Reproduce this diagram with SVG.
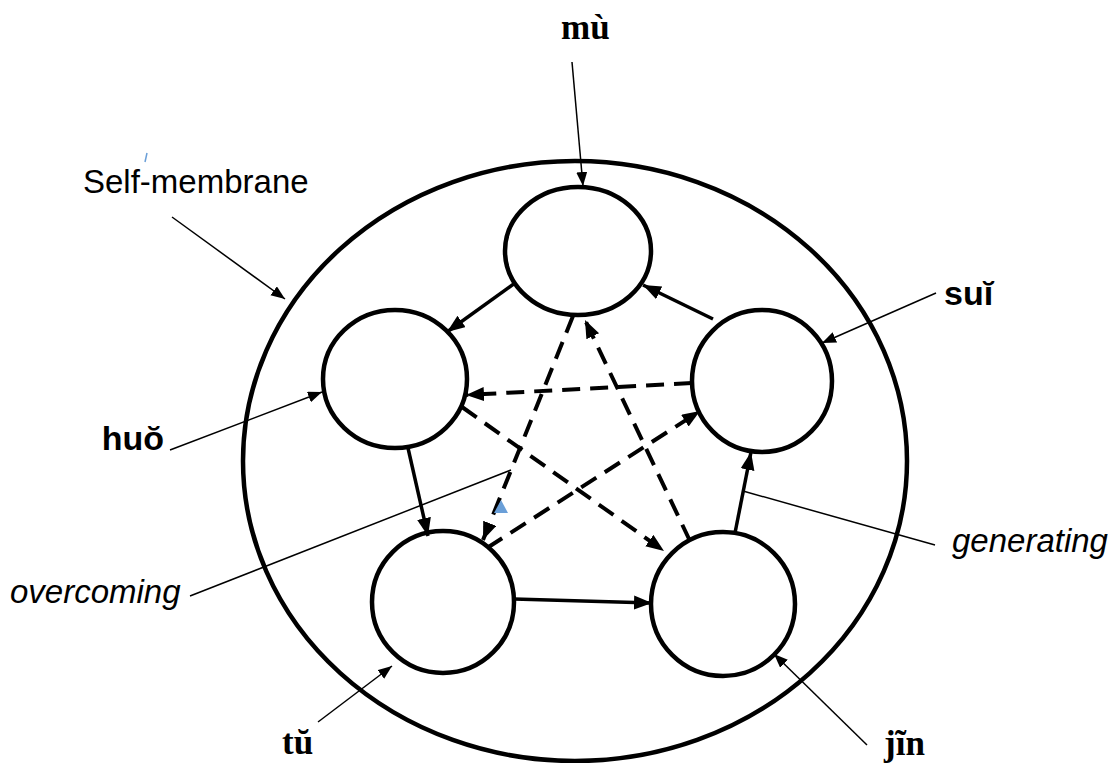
<svg xmlns="http://www.w3.org/2000/svg" width="1114" height="763" viewBox="0 0 1114 763">
<style>
.node{fill:#fff;stroke:#000;stroke-width:4.5}
.gen{fill:none;stroke:#000;stroke-width:3.5;marker-end:url(#ah)}
.over{fill:none;stroke:#000;stroke-width:4;stroke-dasharray:18 10;marker-end:url(#ah)}
.thin{fill:none;stroke:#000;stroke-width:1.5}
.ptr{marker-end:url(#ahs)}
.lab{font-family:"Liberation Serif","Times New Roman",serif;font-weight:bold;font-size:35px;fill:#000}
.labs{font-family:"Liberation Sans",Arial,sans-serif;font-weight:bold;font-size:34px;fill:#000}
.txt{font-family:"Liberation Sans",Arial,sans-serif;font-size:33px;fill:#000}
.it{font-style:italic}
</style>
<defs>
<marker id="ah" markerUnits="userSpaceOnUse" markerWidth="20" markerHeight="16" refX="18" refY="7" orient="auto"><path d="M0,0 L18,7 L0,14 z" fill="#000"/></marker>
<marker id="ahs" markerUnits="userSpaceOnUse" markerWidth="16" markerHeight="12" refX="14" refY="5.5" orient="auto"><path d="M0,0 L14,5.5 L0,11 z" fill="#000"/></marker>
</defs>
<g id="membrane"><ellipse cx="575" cy="461" rx="332" ry="300" fill="none" stroke="#000" stroke-width="4.5"/></g>
<g id="mu"><ellipse class="node" cx="578" cy="251" rx="73" ry="64"/></g>
<g id="huo"><ellipse class="node" cx="395" cy="379" rx="72" ry="69"/></g>
<g id="sui"><ellipse class="node" cx="762" cy="381" rx="70" ry="71"/></g>
<g id="tu"><ellipse class="node" cx="443" cy="602" rx="71" ry="71"/></g>
<g id="jin"><ellipse class="node" cx="723" cy="604" rx="72" ry="72"/></g>
<g id="connectors">
<line class="gen" x1="713" y1="319" x2="643" y2="285"/>
<line class="gen" x1="515" y1="283" x2="447" y2="332"/>
<line class="gen" x1="408" y1="448" x2="428" y2="536"/>
<line class="gen" x1="514" y1="599" x2="652" y2="603"/>
<line class="gen" x1="735" y1="533" x2="751" y2="452"/>
<line class="over" x1="573" y1="316" x2="483" y2="540"/>
<line class="over" x1="690" y1="541" x2="585" y2="320"/>
<line class="over" x1="692" y1="383" x2="466" y2="395"/>
<line class="over" x1="462" y1="407" x2="664" y2="551"/>
<line class="over" x1="487" y1="548" x2="700" y2="411"/>
<line class="thin ptr" x1="572" y1="62" x2="583" y2="186"/>
<line class="thin ptr" x1="172" y1="217" x2="285" y2="299"/>
<line class="thin ptr" x1="936" y1="293" x2="822" y2="343"/>
<line class="thin ptr" x1="170" y1="450" x2="322" y2="392"/>
<line class="thin ptr" x1="318" y1="722" x2="392" y2="666"/>
<line class="thin ptr" x1="867" y1="745" x2="774" y2="654"/>
<line class="thin" x1="743" y1="491" x2="935" y2="545"/>
<line class="thin" x1="190" y1="596" x2="511" y2="470"/>
</g>
<g id="labels">
<text class="lab" x="561" y="39">mù</text>
<text class="labs" x="944" y="305">suĭ</text>
<text class="labs" x="164" y="450" text-anchor="end">huŏ</text>
<text class="lab" x="282" y="754">tŭ</text>
<text class="lab" x="884" y="755">jĩn</text>
<text class="txt" x="83" y="193">Self-membrane</text>
<text class="txt it" x="952" y="552">generating</text>
<text class="txt it" x="10" y="603">overcoming</text>
</g>
<g id="marks">
<polygon points="501,500 494,513 508,513" fill="#6a9fd8"/>
<line x1="147" y1="153" x2="145" y2="162" stroke="#6a9fd8" stroke-width="1.5"/>
</g>
</svg>
